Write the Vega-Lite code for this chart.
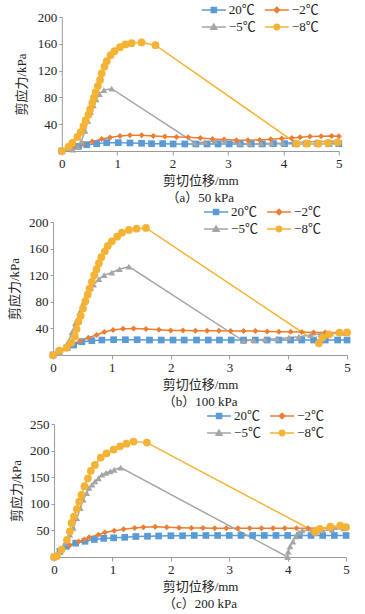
{
"$schema": "https://vega.github.io/schema/vega-lite/v6.json",
"padding": {"left": 8, "top": 3, "right": 0, "bottom": 0},
"spacing": 0,
"center": true,
"config": {
  "font": "Liberation Serif, Noto Sans CJK SC",
  "view": {"stroke": null},
  "axis": {"grid": false, "domainColor": "#9a9a9a", "tickColor": "#9a9a9a", "labelColor": "#222", "titleColor": "#222", "labelFontSize": 13, "titleFontSize": 13, "titleFontWeight": "normal", "labelFont": "Liberation Serif, Noto Sans CJK SC", "titleFont": "Liberation Serif, Noto Sans CJK SC"},
  "axisX": {"tickSize": 4, "labelPadding": 2, "titlePadding": 4, "labelFlush": false},
  "axisY": {"tickSize": 3, "labelPadding": 2},
  "title": {"fontSize": 13, "fontWeight": "normal", "color": "#222", "font": "Liberation Serif, Noto Sans CJK SC", "orient": "bottom", "frame": "group", "offset": 5},
  "legend": {"labelFontSize": 13, "labelColor": "#222", "labelFont": "Liberation Serif, Noto Sans CJK SC", "padding": 0}
},
"resolve": {"legend": {"color": "independent", "shape": "independent"}},
"datasets": {"d": [
{"p":"a","s":"20℃","x":0,"y":0},{"p":"a","s":"20℃","x":0.15,"y":4},{"p":"a","s":"20℃","x":0.3,"y":7},{"p":"a","s":"20℃","x":0.45,"y":9.5},{"p":"a","s":"20℃","x":0.63,"y":11},{"p":"a","s":"20℃","x":0.81,"y":12.5},{"p":"a","s":"20℃","x":1.02,"y":12.5},{"p":"a","s":"20℃","x":1.23,"y":12},{"p":"a","s":"20℃","x":1.44,"y":11.5},{"p":"a","s":"20℃","x":1.62,"y":11},{"p":"a","s":"20℃","x":1.82,"y":11},{"p":"a","s":"20℃","x":2.01,"y":10.5},{"p":"a","s":"20℃","x":2.22,"y":10.5},{"p":"a","s":"20℃","x":2.42,"y":10.5},{"p":"a","s":"20℃","x":2.62,"y":10.5},{"p":"a","s":"20℃","x":2.82,"y":10.5},{"p":"a","s":"20℃","x":3.02,"y":10.5},{"p":"a","s":"20℃","x":3.22,"y":10.5},{"p":"a","s":"20℃","x":3.42,"y":10.5},{"p":"a","s":"20℃","x":3.62,"y":10.5},{"p":"a","s":"20℃","x":3.82,"y":11},{"p":"a","s":"20℃","x":4.02,"y":11},{"p":"a","s":"20℃","x":4.22,"y":11},{"p":"a","s":"20℃","x":4.42,"y":11},{"p":"a","s":"20℃","x":4.62,"y":11},{"p":"a","s":"20℃","x":4.82,"y":11},{"p":"a","s":"20℃","x":5,"y":11},
{"p":"a","s":"−2℃","x":0,"y":0},{"p":"a","s":"−2℃","x":0.2,"y":6},{"p":"a","s":"−2℃","x":0.38,"y":11},{"p":"a","s":"−2℃","x":0.55,"y":14},{"p":"a","s":"−2℃","x":0.72,"y":18},{"p":"a","s":"−2℃","x":0.87,"y":20},{"p":"a","s":"−2℃","x":1.05,"y":22.5},{"p":"a","s":"−2℃","x":1.23,"y":23.5},{"p":"a","s":"−2℃","x":1.44,"y":23.5},{"p":"a","s":"−2℃","x":1.65,"y":22.5},{"p":"a","s":"−2℃","x":1.86,"y":21.5},{"p":"a","s":"−2℃","x":2.07,"y":21},{"p":"a","s":"−2℃","x":2.28,"y":20.5},{"p":"a","s":"−2℃","x":2.5,"y":19.5},{"p":"a","s":"−2℃","x":2.72,"y":18},{"p":"a","s":"−2℃","x":2.93,"y":17},{"p":"a","s":"−2℃","x":3.15,"y":16},{"p":"a","s":"−2℃","x":3.36,"y":16},{"p":"a","s":"−2℃","x":3.57,"y":16.5},{"p":"a","s":"−2℃","x":3.77,"y":17.5},{"p":"a","s":"−2℃","x":3.97,"y":18.5},{"p":"a","s":"−2℃","x":4.15,"y":19.5},{"p":"a","s":"−2℃","x":4.3,"y":20.5},{"p":"a","s":"−2℃","x":4.48,"y":21.5},{"p":"a","s":"−2℃","x":4.68,"y":22},{"p":"a","s":"−2℃","x":4.87,"y":22.5},{"p":"a","s":"−2℃","x":5,"y":22},
{"p":"a","s":"−5℃","x":0,"y":0},{"p":"a","s":"−5℃","x":0.2,"y":2},{"p":"a","s":"−5℃","x":0.29,"y":6},{"p":"a","s":"−5℃","x":0.35,"y":14},{"p":"a","s":"−5℃","x":0.42,"y":30},{"p":"a","s":"−5℃","x":0.47,"y":45},{"p":"a","s":"−5℃","x":0.52,"y":58},{"p":"a","s":"−5℃","x":0.57,"y":68},{"p":"a","s":"−5℃","x":0.62,"y":77},{"p":"a","s":"−5℃","x":0.68,"y":85},{"p":"a","s":"−5℃","x":0.76,"y":91},{"p":"a","s":"−5℃","x":0.9,"y":93},{"p":"a","s":"−5℃","x":2.4,"y":12},{"p":"a","s":"−5℃","x":2.58,"y":13.5},{"p":"a","s":"−5℃","x":2.76,"y":15},{"p":"a","s":"−5℃","x":2.94,"y":14.5},{"p":"a","s":"−5℃","x":3.21,"y":11.5},{"p":"a","s":"−5℃","x":3.39,"y":11},{"p":"a","s":"−5℃","x":3.6,"y":11},{"p":"a","s":"−5℃","x":3.79,"y":11.5},{"p":"a","s":"−5℃","x":3.99,"y":12},{"p":"a","s":"−5℃","x":4.2,"y":13},{"p":"a","s":"−5℃","x":4.4,"y":13.5},{"p":"a","s":"−5℃","x":4.6,"y":14},{"p":"a","s":"−5℃","x":4.8,"y":14.5},{"p":"a","s":"−5℃","x":5,"y":15},
{"p":"a","s":"−8℃","x":0,"y":0},{"p":"a","s":"−8℃","x":0.12,"y":6},{"p":"a","s":"−8℃","x":0.19,"y":12},{"p":"a","s":"−8℃","x":0.28,"y":21},{"p":"a","s":"−8℃","x":0.34,"y":28},{"p":"a","s":"−8℃","x":0.39,"y":37},{"p":"a","s":"−8℃","x":0.43,"y":46},{"p":"a","s":"−8℃","x":0.48,"y":54},{"p":"a","s":"−8℃","x":0.51,"y":62},{"p":"a","s":"−8℃","x":0.55,"y":72},{"p":"a","s":"−8℃","x":0.58,"y":80},{"p":"a","s":"−8℃","x":0.61,"y":88},{"p":"a","s":"−8℃","x":0.65,"y":97},{"p":"a","s":"−8℃","x":0.69,"y":106},{"p":"a","s":"−8℃","x":0.72,"y":116},{"p":"a","s":"−8℃","x":0.77,"y":126},{"p":"a","s":"−8℃","x":0.81,"y":134},{"p":"a","s":"−8℃","x":0.88,"y":143},{"p":"a","s":"−8℃","x":0.95,"y":149},{"p":"a","s":"−8℃","x":1.05,"y":155},{"p":"a","s":"−8℃","x":1.15,"y":159},{"p":"a","s":"−8℃","x":1.26,"y":161},{"p":"a","s":"−8℃","x":1.44,"y":162},{"p":"a","s":"−8℃","x":1.69,"y":158},{"p":"a","s":"−8℃","x":4.24,"y":11},{"p":"a","s":"−8℃","x":4.43,"y":11},{"p":"a","s":"−8℃","x":4.63,"y":11},{"p":"a","s":"−8℃","x":4.81,"y":12},{"p":"a","s":"−8℃","x":4.98,"y":13},
{"p":"b","s":"20℃","x":0,"y":0},{"p":"b","s":"20℃","x":0.1,"y":5},{"p":"b","s":"20℃","x":0.24,"y":11},{"p":"b","s":"20℃","x":0.35,"y":15},{"p":"b","s":"20℃","x":0.49,"y":20},{"p":"b","s":"20℃","x":0.66,"y":21.5},{"p":"b","s":"20℃","x":0.83,"y":22.5},{"p":"b","s":"20℃","x":1.03,"y":23},{"p":"b","s":"20℃","x":1.23,"y":23},{"p":"b","s":"20℃","x":1.43,"y":23},{"p":"b","s":"20℃","x":1.64,"y":22.5},{"p":"b","s":"20℃","x":1.84,"y":22.5},{"p":"b","s":"20℃","x":2.04,"y":22.5},{"p":"b","s":"20℃","x":2.23,"y":22.5},{"p":"b","s":"20℃","x":2.44,"y":22.5},{"p":"b","s":"20℃","x":2.64,"y":22.5},{"p":"b","s":"20℃","x":2.83,"y":22.5},{"p":"b","s":"20℃","x":3.03,"y":22.5},{"p":"b","s":"20℃","x":3.24,"y":22.5},{"p":"b","s":"20℃","x":3.44,"y":22.5},{"p":"b","s":"20℃","x":3.64,"y":22.5},{"p":"b","s":"20℃","x":3.84,"y":22.5},{"p":"b","s":"20℃","x":4.04,"y":22.5},{"p":"b","s":"20℃","x":4.23,"y":22.5},{"p":"b","s":"20℃","x":4.43,"y":22.5},{"p":"b","s":"20℃","x":4.63,"y":22.5},{"p":"b","s":"20℃","x":4.84,"y":22.5},{"p":"b","s":"20℃","x":5,"y":22.5},
{"p":"b","s":"−2℃","x":0,"y":0},{"p":"b","s":"−2℃","x":0.1,"y":5},{"p":"b","s":"−2℃","x":0.25,"y":12},{"p":"b","s":"−2℃","x":0.46,"y":21},{"p":"b","s":"−2℃","x":0.6,"y":26},{"p":"b","s":"−2℃","x":0.74,"y":30},{"p":"b","s":"−2℃","x":0.87,"y":34.5},{"p":"b","s":"−2℃","x":1.02,"y":37.5},{"p":"b","s":"−2℃","x":1.19,"y":39.5},{"p":"b","s":"−2℃","x":1.37,"y":40},{"p":"b","s":"−2℃","x":1.58,"y":39},{"p":"b","s":"−2℃","x":1.8,"y":38},{"p":"b","s":"−2℃","x":2,"y":37},{"p":"b","s":"−2℃","x":2.21,"y":37},{"p":"b","s":"−2℃","x":2.42,"y":36.5},{"p":"b","s":"−2℃","x":2.62,"y":36.5},{"p":"b","s":"−2℃","x":2.82,"y":36.5},{"p":"b","s":"−2℃","x":3.02,"y":36},{"p":"b","s":"−2℃","x":3.24,"y":36},{"p":"b","s":"−2℃","x":3.44,"y":36},{"p":"b","s":"−2℃","x":3.64,"y":35.5},{"p":"b","s":"−2℃","x":3.84,"y":35},{"p":"b","s":"−2℃","x":4.04,"y":35},{"p":"b","s":"−2℃","x":4.23,"y":34.5},{"p":"b","s":"−2℃","x":4.43,"y":34},{"p":"b","s":"−2℃","x":4.63,"y":34},{"p":"b","s":"−2℃","x":4.84,"y":33.5},{"p":"b","s":"−2℃","x":5,"y":34},
{"p":"b","s":"−5℃","x":0,"y":0},{"p":"b","s":"−5℃","x":0.1,"y":4},{"p":"b","s":"−5℃","x":0.2,"y":10},{"p":"b","s":"−5℃","x":0.26,"y":20},{"p":"b","s":"−5℃","x":0.32,"y":34},{"p":"b","s":"−5℃","x":0.38,"y":48},{"p":"b","s":"−5℃","x":0.45,"y":64},{"p":"b","s":"−5℃","x":0.52,"y":79},{"p":"b","s":"−5℃","x":0.58,"y":91},{"p":"b","s":"−5℃","x":0.64,"y":101},{"p":"b","s":"−5℃","x":0.69,"y":106},{"p":"b","s":"−5℃","x":0.78,"y":114},{"p":"b","s":"−5℃","x":0.87,"y":120},{"p":"b","s":"−5℃","x":1,"y":124},{"p":"b","s":"−5℃","x":1.13,"y":129},{"p":"b","s":"−5℃","x":1.29,"y":133},{"p":"b","s":"−5℃","x":3.24,"y":21},{"p":"b","s":"−5℃","x":3.41,"y":22.5},{"p":"b","s":"−5℃","x":3.61,"y":23.5},{"p":"b","s":"−5℃","x":3.81,"y":24.5},{"p":"b","s":"−5℃","x":4.01,"y":26},{"p":"b","s":"−5℃","x":4.18,"y":27.5},{"p":"b","s":"−5℃","x":4.38,"y":30},{"p":"b","s":"−5℃","x":4.55,"y":31.5},{"p":"b","s":"−5℃","x":4.72,"y":32.5},{"p":"b","s":"−5℃","x":4.91,"y":33.5},{"p":"b","s":"−5℃","x":5,"y":34},
{"p":"b","s":"−8℃","x":0,"y":0},{"p":"b","s":"−8℃","x":0.11,"y":6.5},{"p":"b","s":"−8℃","x":0.23,"y":11},{"p":"b","s":"−8℃","x":0.31,"y":18.5},{"p":"b","s":"−8℃","x":0.37,"y":28},{"p":"b","s":"−8℃","x":0.4,"y":39},{"p":"b","s":"−8℃","x":0.43,"y":50},{"p":"b","s":"−8℃","x":0.47,"y":59},{"p":"b","s":"−8℃","x":0.51,"y":70},{"p":"b","s":"−8℃","x":0.55,"y":81},{"p":"b","s":"−8℃","x":0.59,"y":91},{"p":"b","s":"−8℃","x":0.62,"y":100},{"p":"b","s":"−8℃","x":0.66,"y":110},{"p":"b","s":"−8℃","x":0.7,"y":120},{"p":"b","s":"−8℃","x":0.74,"y":129},{"p":"b","s":"−8℃","x":0.78,"y":138},{"p":"b","s":"−8℃","x":0.82,"y":147},{"p":"b","s":"−8℃","x":0.88,"y":156},{"p":"b","s":"−8℃","x":0.93,"y":164},{"p":"b","s":"−8℃","x":1,"y":171},{"p":"b","s":"−8℃","x":1.09,"y":178},{"p":"b","s":"−8℃","x":1.17,"y":184},{"p":"b","s":"−8℃","x":1.29,"y":188},{"p":"b","s":"−8℃","x":1.42,"y":190},{"p":"b","s":"−8℃","x":1.58,"y":191},{"p":"b","s":"−8℃","x":4.52,"y":17.5},{"p":"b","s":"−8℃","x":4.58,"y":26},{"p":"b","s":"−8℃","x":4.69,"y":31},{"p":"b","s":"−8℃","x":4.87,"y":33.5},{"p":"b","s":"−8℃","x":5,"y":34},
{"p":"c","s":"20℃","x":0,"y":0},{"p":"c","s":"20℃","x":0.1,"y":10.5},{"p":"c","s":"20℃","x":0.21,"y":20},{"p":"c","s":"20℃","x":0.37,"y":26},{"p":"c","s":"20℃","x":0.53,"y":29.5},{"p":"c","s":"20℃","x":0.69,"y":33},{"p":"c","s":"20℃","x":0.85,"y":35},{"p":"c","s":"20℃","x":1.02,"y":36},{"p":"c","s":"20℃","x":1.21,"y":37},{"p":"c","s":"20℃","x":1.4,"y":38.5},{"p":"c","s":"20℃","x":1.6,"y":39},{"p":"c","s":"20℃","x":1.79,"y":39.5},{"p":"c","s":"20℃","x":2,"y":40},{"p":"c","s":"20℃","x":2.2,"y":40},{"p":"c","s":"20℃","x":2.4,"y":40.5},{"p":"c","s":"20℃","x":2.6,"y":40.5},{"p":"c","s":"20℃","x":2.8,"y":40.5},{"p":"c","s":"20℃","x":3,"y":40.5},{"p":"c","s":"20℃","x":3.2,"y":40.5},{"p":"c","s":"20℃","x":3.4,"y":40.5},{"p":"c","s":"20℃","x":3.6,"y":40.5},{"p":"c","s":"20℃","x":3.8,"y":40.5},{"p":"c","s":"20℃","x":4,"y":40.5},{"p":"c","s":"20℃","x":4.2,"y":40.5},{"p":"c","s":"20℃","x":4.4,"y":40.5},{"p":"c","s":"20℃","x":4.6,"y":40.5},{"p":"c","s":"20℃","x":4.8,"y":40.5},{"p":"c","s":"20℃","x":5,"y":40.5},
{"p":"c","s":"−2℃","x":0,"y":0},{"p":"c","s":"−2℃","x":0.15,"y":15},{"p":"c","s":"−2℃","x":0.27,"y":22},{"p":"c","s":"−2℃","x":0.42,"y":29},{"p":"c","s":"−2℃","x":0.52,"y":33},{"p":"c","s":"−2℃","x":0.6,"y":37},{"p":"c","s":"−2℃","x":0.76,"y":42},{"p":"c","s":"−2℃","x":0.87,"y":46},{"p":"c","s":"−2℃","x":1.03,"y":49.5},{"p":"c","s":"−2℃","x":1.19,"y":52},{"p":"c","s":"−2℃","x":1.38,"y":54.5},{"p":"c","s":"−2℃","x":1.53,"y":56},{"p":"c","s":"−2℃","x":1.73,"y":57},{"p":"c","s":"−2℃","x":1.93,"y":56},{"p":"c","s":"−2℃","x":2.14,"y":55},{"p":"c","s":"−2℃","x":2.35,"y":54.5},{"p":"c","s":"−2℃","x":2.55,"y":54.5},{"p":"c","s":"−2℃","x":2.75,"y":54},{"p":"c","s":"−2℃","x":2.95,"y":54},{"p":"c","s":"−2℃","x":3.15,"y":54},{"p":"c","s":"−2℃","x":3.35,"y":54},{"p":"c","s":"−2℃","x":3.55,"y":54},{"p":"c","s":"−2℃","x":3.75,"y":54},{"p":"c","s":"−2℃","x":3.95,"y":54},{"p":"c","s":"−2℃","x":4.15,"y":54},{"p":"c","s":"−2℃","x":4.35,"y":54},{"p":"c","s":"−2℃","x":4.55,"y":54.5},{"p":"c","s":"−2℃","x":4.75,"y":54.5},{"p":"c","s":"−2℃","x":4.97,"y":54.5},
{"p":"c","s":"−5℃","x":0,"y":0},{"p":"c","s":"−5℃","x":0.1,"y":10},{"p":"c","s":"−5℃","x":0.19,"y":26},{"p":"c","s":"−5℃","x":0.27,"y":42},{"p":"c","s":"−5℃","x":0.33,"y":55},{"p":"c","s":"−5℃","x":0.39,"y":73},{"p":"c","s":"−5℃","x":0.45,"y":92},{"p":"c","s":"−5℃","x":0.5,"y":108},{"p":"c","s":"−5℃","x":0.56,"y":120},{"p":"c","s":"−5℃","x":0.6,"y":130},{"p":"c","s":"−5℃","x":0.65,"y":136},{"p":"c","s":"−5℃","x":0.7,"y":142},{"p":"c","s":"−5℃","x":0.76,"y":148},{"p":"c","s":"−5℃","x":0.82,"y":155},{"p":"c","s":"−5℃","x":0.89,"y":158},{"p":"c","s":"−5℃","x":0.96,"y":161},{"p":"c","s":"−5℃","x":1.03,"y":164},{"p":"c","s":"−5℃","x":1.14,"y":168},{"p":"c","s":"−5℃","x":4,"y":0},{"p":"c","s":"−5℃","x":4.01,"y":10},{"p":"c","s":"−5℃","x":4.04,"y":20},{"p":"c","s":"−5℃","x":4.09,"y":29},{"p":"c","s":"−5℃","x":4.14,"y":39},{"p":"c","s":"−5℃","x":4.19,"y":46},{"p":"c","s":"−5℃","x":4.25,"y":50},{"p":"c","s":"−5℃","x":4.42,"y":50},{"p":"c","s":"−5℃","x":4.6,"y":50},{"p":"c","s":"−5℃","x":4.76,"y":51},{"p":"c","s":"−5℃","x":4.96,"y":54},
{"p":"c","s":"−8℃","x":0,"y":0},{"p":"c","s":"−8℃","x":0.05,"y":2},{"p":"c","s":"−8℃","x":0.13,"y":14},{"p":"c","s":"−8℃","x":0.22,"y":32},{"p":"c","s":"−8℃","x":0.27,"y":48},{"p":"c","s":"−8℃","x":0.3,"y":64},{"p":"c","s":"−8℃","x":0.34,"y":76},{"p":"c","s":"−8℃","x":0.39,"y":90},{"p":"c","s":"−8℃","x":0.43,"y":104},{"p":"c","s":"−8℃","x":0.47,"y":117},{"p":"c","s":"−8℃","x":0.52,"y":133},{"p":"c","s":"−8℃","x":0.58,"y":148},{"p":"c","s":"−8℃","x":0.63,"y":162},{"p":"c","s":"−8℃","x":0.7,"y":173},{"p":"c","s":"−8℃","x":0.8,"y":187},{"p":"c","s":"−8℃","x":0.9,"y":195},{"p":"c","s":"−8℃","x":1.02,"y":202},{"p":"c","s":"−8℃","x":1.13,"y":208},{"p":"c","s":"−8℃","x":1.24,"y":213},{"p":"c","s":"−8℃","x":1.36,"y":217},{"p":"c","s":"−8℃","x":1.59,"y":215},{"p":"c","s":"−8℃","x":4.47,"y":47},{"p":"c","s":"−8℃","x":4.55,"y":53},{"p":"c","s":"−8℃","x":4.73,"y":57},{"p":"c","s":"−8℃","x":4.9,"y":59},{"p":"c","s":"−8℃","x":5,"y":56}
]},
"vconcat": [
{
  "width": 277, "height": 134,
  "title": {"text": "（a）50 kPa"},
  "data": {"name": "d"},
  "transform": [{"filter": "datum.p == 'a'"}],
  "encoding": {
    "x": {"field": "x", "type": "quantitative", "scale": {"domain": [0, 5], "nice": false}, "axis": {"values": [0,1,2,3,4,5], "title": "剪切位移/mm"}},
    "y": {"field": "y", "type": "quantitative", "scale": {"domain": [0, 200], "nice": false}, "axis": {"values": [40,80,120,160,200], "title": "剪应力/kPa", "titlePadding": 9}},
    "color": {"field": "s", "type": "nominal", "scale": {"domain": ["20℃","−2℃","−5℃","−8℃"], "range": ["#5B9BD5","#ED7D31","#A5A5A5","#F5B335"]}, "legend": {"orient": "none", "legendX": 145, "legendY": -14, "direction": "horizontal", "columns": 2, "title": null, "symbolSize": 144, "symbolStrokeWidth": 1.5, "labelOffset": 8, "columnPadding": 6, "rowPadding": 3, "symbolOpacity": 1, "encode": {"symbols": {"update": {"stroke": {"scale": "color", "field": "value"}, "fill": {"scale": "color", "field": "value"}, "strokeWidth": {"value": 1.5}, "opacity": {"value": 1}}}}}}
  },
  "layer": [
    {"transform": [{"filter": "datum.p == 'none'"}], "mark": {"type": "point", "filled": true, "opacity": 1},
     "encoding": {
       "shape": {"field": "s", "type": "nominal", "scale": {"domain": ["20℃","−2℃","−5℃","−8℃"], "range": ["M-2,0H2M-0.42,-0.42H0.42V0.42H-0.42Z","M-2,0H2M0,-0.45L0.45,0L0,0.45L-0.45,0Z","M-2,0H2M0,-0.5L0.5,0.38L-0.5,0.38Z","M-2,0H2M-0.45,0A0.45,0.45,0,1,1,0.45,0A0.45,0.45,0,1,1,-0.45,0Z"]}, "legend": {"orient": "none", "legendX": 145, "legendY": -14, "direction": "horizontal", "columns": 2, "title": null, "symbolSize": 144, "symbolStrokeWidth": 1.5, "labelOffset": 8, "columnPadding": 6, "rowPadding": 3, "symbolOpacity": 1}}
     }},
    {"mark": {"type": "line", "strokeWidth": 1.5}},
    {"transform": [{"filter": "datum.s == '20℃'"}], "mark": {"type": "point", "shape": "square", "filled": true, "size": 45, "opacity": 1}},
    {"transform": [{"filter": "datum.s == '−2℃'"}], "mark": {"type": "point", "shape": "diamond", "filled": true, "size": 36, "opacity": 1}},
    {"transform": [{"filter": "datum.s == '−5℃'"}], "mark": {"type": "point", "shape": "triangle-up", "filled": true, "size": 45, "opacity": 1}},
    {"transform": [{"filter": "datum.s == '−8℃'"}], "mark": {"type": "point", "shape": "circle", "filled": true, "size": 60, "opacity": 1}}
  ]
},
{
  "width": 294, "height": 133,
  "title": {"text": "（b）100 kPa"},
  "data": {"name": "d"},
  "transform": [{"filter": "datum.p == 'b'"}],
  "encoding": {
    "x": {"field": "x", "type": "quantitative", "scale": {"domain": [0, 5], "nice": false}, "axis": {"values": [0,1,2,3,4,5], "title": "剪切位移/mm"}},
    "y": {"field": "y", "type": "quantitative", "scale": {"domain": [0, 200], "nice": false}, "axis": {"values": [40,80,120,160,200], "title": "剪应力/kPa", "titlePadding": 7}},
    "color": {"field": "s", "type": "nominal", "scale": {"domain": ["20℃","−2℃","−5℃","−8℃"], "range": ["#5B9BD5","#ED7D31","#A5A5A5","#F5B335"]}, "legend": {"orient": "none", "legendX": 156, "legendY": -17, "direction": "horizontal", "columns": 2, "title": null, "symbolSize": 144, "symbolStrokeWidth": 1.5, "labelOffset": 8, "columnPadding": 6, "rowPadding": 3, "symbolOpacity": 1, "encode": {"symbols": {"update": {"stroke": {"scale": "color", "field": "value"}, "fill": {"scale": "color", "field": "value"}, "strokeWidth": {"value": 1.5}, "opacity": {"value": 1}}}}}}
  },
  "layer": [
    {"transform": [{"filter": "datum.p == 'none'"}], "mark": {"type": "point", "filled": true, "opacity": 1},
     "encoding": {
       "shape": {"field": "s", "type": "nominal", "scale": {"domain": ["20℃","−2℃","−5℃","−8℃"], "range": ["M-2,0H2M-0.42,-0.42H0.42V0.42H-0.42Z","M-2,0H2M0,-0.45L0.45,0L0,0.45L-0.45,0Z","M-2,0H2M0,-0.5L0.5,0.38L-0.5,0.38Z","M-2,0H2M-0.45,0A0.45,0.45,0,1,1,0.45,0A0.45,0.45,0,1,1,-0.45,0Z"]}, "legend": {"orient": "none", "legendX": 156, "legendY": -17, "direction": "horizontal", "columns": 2, "title": null, "symbolSize": 144, "symbolStrokeWidth": 1.5, "labelOffset": 8, "columnPadding": 6, "rowPadding": 3, "symbolOpacity": 1}}
     }},
    {"mark": {"type": "line", "strokeWidth": 1.5}},
    {"transform": [{"filter": "datum.s == '20℃'"}], "mark": {"type": "point", "shape": "square", "filled": true, "size": 45, "opacity": 1}},
    {"transform": [{"filter": "datum.s == '−2℃'"}], "mark": {"type": "point", "shape": "diamond", "filled": true, "size": 36, "opacity": 1}},
    {"transform": [{"filter": "datum.s == '−5℃'"}], "mark": {"type": "point", "shape": "triangle-up", "filled": true, "size": 45, "opacity": 1}},
    {"transform": [{"filter": "datum.s == '−8℃'"}], "mark": {"type": "point", "shape": "circle", "filled": true, "size": 60, "opacity": 1}}
  ]
},
{
  "width": 292, "height": 133,
  "title": {"text": "（c）200 kPa"},
  "data": {"name": "d"},
  "transform": [{"filter": "datum.p == 'c'"}],
  "encoding": {
    "x": {"field": "x", "type": "quantitative", "scale": {"domain": [0, 5], "nice": false}, "axis": {"values": [0,1,2,3,4,5], "title": "剪切位移/mm"}},
    "y": {"field": "y", "type": "quantitative", "scale": {"domain": [0, 250], "nice": false}, "axis": {"values": [50,100,150,200,250], "title": "剪应力/kPa", "titlePadding": 6}},
    "color": {"field": "s", "type": "nominal", "scale": {"domain": ["20℃","−2℃","−5℃","−8℃"], "range": ["#5B9BD5","#ED7D31","#A5A5A5","#F5B335"]}, "legend": {"orient": "none", "legendX": 158, "legendY": -15, "direction": "horizontal", "columns": 2, "title": null, "symbolSize": 144, "symbolStrokeWidth": 1.5, "labelOffset": 8, "columnPadding": 6, "rowPadding": 3, "symbolOpacity": 1, "encode": {"symbols": {"update": {"stroke": {"scale": "color", "field": "value"}, "fill": {"scale": "color", "field": "value"}, "strokeWidth": {"value": 1.5}, "opacity": {"value": 1}}}}}}
  },
  "layer": [
    {"transform": [{"filter": "datum.p == 'none'"}], "mark": {"type": "point", "filled": true, "opacity": 1},
     "encoding": {
       "shape": {"field": "s", "type": "nominal", "scale": {"domain": ["20℃","−2℃","−5℃","−8℃"], "range": ["M-2,0H2M-0.42,-0.42H0.42V0.42H-0.42Z","M-2,0H2M0,-0.45L0.45,0L0,0.45L-0.45,0Z","M-2,0H2M0,-0.5L0.5,0.38L-0.5,0.38Z","M-2,0H2M-0.45,0A0.45,0.45,0,1,1,0.45,0A0.45,0.45,0,1,1,-0.45,0Z"]}, "legend": {"orient": "none", "legendX": 158, "legendY": -15, "direction": "horizontal", "columns": 2, "title": null, "symbolSize": 144, "symbolStrokeWidth": 1.5, "labelOffset": 8, "columnPadding": 6, "rowPadding": 3, "symbolOpacity": 1}}
     }},
    {"mark": {"type": "line", "strokeWidth": 1.5}},
    {"transform": [{"filter": "datum.s == '20℃'"}], "mark": {"type": "point", "shape": "square", "filled": true, "size": 45, "opacity": 1}},
    {"transform": [{"filter": "datum.s == '−2℃'"}], "mark": {"type": "point", "shape": "diamond", "filled": true, "size": 36, "opacity": 1}},
    {"transform": [{"filter": "datum.s == '−5℃'"}], "mark": {"type": "point", "shape": "triangle-up", "filled": true, "size": 45, "opacity": 1}},
    {"transform": [{"filter": "datum.s == '−8℃'"}], "mark": {"type": "point", "shape": "circle", "filled": true, "size": 60, "opacity": 1}}
  ]
}
]
}
